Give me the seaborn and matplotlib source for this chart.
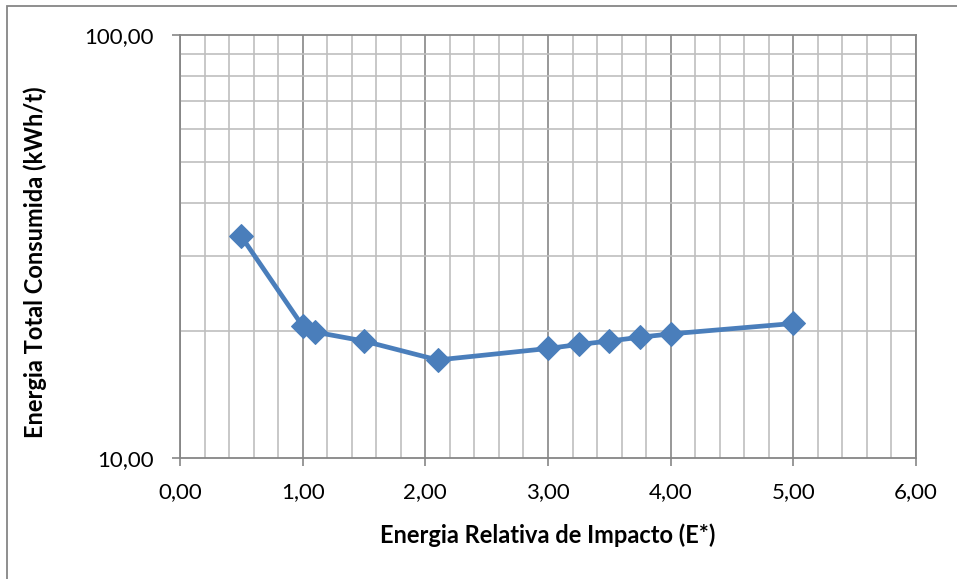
import matplotlib
matplotlib.use("Agg")
import matplotlib.pyplot as plt
import seaborn as sns
import pandas as pd
import numpy as np
from matplotlib.ticker import FixedLocator, MultipleLocator, FuncFormatter, NullFormatter
from matplotlib.patches import Rectangle

# Data
energia_relativa = [0.5, 1.0, 1.1, 1.5, 2.1, 3.0, 3.25, 3.5, 3.75, 4.0, 5.0]
energia_total = [33.4, 20.5, 19.85, 18.9, 17.05, 18.15, 18.55, 18.9, 19.3, 19.65, 20.8]

x_label = "Energia Relativa de Impacto (E*)"
y_label = "Energia Total Consumida (kWh/t)"

df = pd.DataFrame({"x": energia_relativa, "y": energia_total})

sns.set_theme(style="white")
plt.rcParams["font.family"] = ["Lato", "DejaVu Sans"]

fig = plt.figure(figsize=(9.57, 5.79), dpi=100)
ax = fig.add_axes([180 / 957, 1 - 458 / 579, (916 - 180) / 957, (458 - 35) / 579])

line_color = "#4A7EBB"
sns.lineplot(data=df, x="x", y="y", ax=ax, color=line_color, linewidth=3.4,
             marker="D", markersize=12, markeredgecolor=line_color,
             markerfacecolor=line_color, sort=False, zorder=5)

ax.set_yscale("log")
ax.set_xlim(0, 6)
ax.set_ylim(10, 100)

# ticks
ax.xaxis.set_major_locator(MultipleLocator(1))
ax.xaxis.set_minor_locator(MultipleLocator(0.2))
ax.yaxis.set_major_locator(FixedLocator([10, 100]))
ax.yaxis.set_minor_locator(FixedLocator([20, 30, 40, 50, 60, 70, 80, 90]))
fmt = FuncFormatter(lambda v, p: f"{v:.2f}".replace(".", ","))
ax.xaxis.set_major_formatter(fmt)
ax.yaxis.set_major_formatter(fmt)
ax.yaxis.set_minor_formatter(NullFormatter())

ax.tick_params(axis="both", which="major", direction="out", length=6, width=1.2,
               color="#868686", labelsize=16, labelcolor="#000000",
               bottom=True, left=True)
ax.tick_params(axis="x", which="major", pad=11)
ax.tick_params(axis="y", which="major", pad=13)
ax.tick_params(axis="both", which="minor", length=0)

ax.grid(False)
ax.grid(True, which="major", axis="x", color="#868686", linewidth=1.2, zorder=0)
ax.grid(True, which="minor", axis="x", color="#BFBFBF", linewidth=1.2, zorder=0)
ax.grid(True, which="minor", axis="y", color="#BFBFBF", linewidth=1.2, zorder=0)
ax.set_axisbelow(True)

for s in ax.spines.values():
    s.set_color("#868686")
    s.set_linewidth(1.3)
    s.set_visible(True)

ax.set_xlabel(x_label, fontsize=17, fontweight="bold", color="#000000", va="center")
ax.set_ylabel(y_label, fontsize=17, fontweight="bold", color="#000000", va="center")
ax.xaxis.set_label_coords(0.5, (458 - 535) / 423)
ax.yaxis.set_label_coords((35 - 180) / 736, (458 - 262) / 423)

# outer chart border (partially cropped in reference)
fig.patches.append(Rectangle((7.5 / 957, -0.1), 1.2, 1 - 6.5 / 579 + 0.1,
                             transform=fig.transFigure, fill=False,
                             edgecolor="#868686", linewidth=1.3))

fig.savefig("out.png", dpi=100)
